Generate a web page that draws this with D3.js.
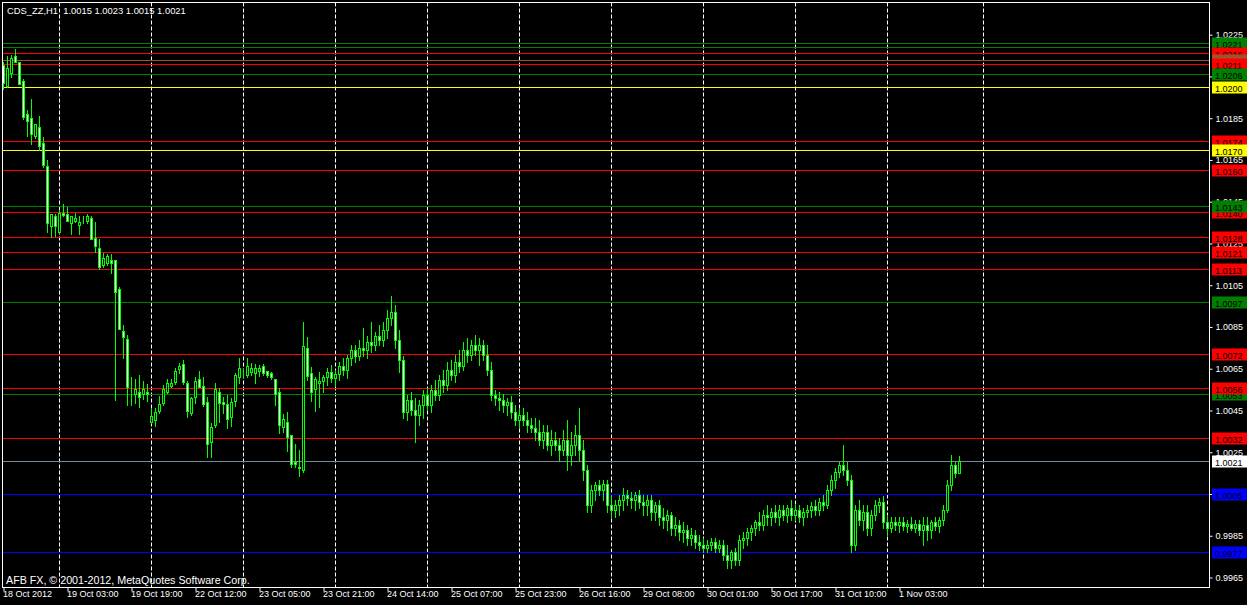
<!DOCTYPE html>
<html><head><meta charset="utf-8">
<script src="https://cdn.jsdelivr.net/npm/d3@7"></script>
<style>html,body{margin:0;padding:0;background:#000;overflow:hidden}svg{display:block}</style>
</head><body><svg id="c" width="1247" height="605"></svg>
<script>
// ---------- DATA ----------
const symbolTitle = "CDS_ZZ,H1  1.0015 1.0023 1.0015 1.0021";
const copyright = "AFB FX, \u00A9 2001-2012, MetaQuotes Software Corp.";
const opens  = [1.02105,1.02006,1.02068,1.02148,1.02118,1.02027,1.01869,1.01850,1.01765,1.01806,
1.01730,1.01621,1.01335,1.01383,1.01305,1.01397,1.01391,1.01349,1.01359,1.01338,
1.01353,1.01358,1.01372,1.01276,1.01228,1.01148,1.01158,1.01171,1.01171,1.01030,
1.00829,1.00791,1.00548,1.00529,1.00540,1.00529,1.00540,1.00396,1.00404,1.00449,
1.00487,1.00540,1.00569,1.00588,1.00650,1.00671,1.00580,1.00439,1.00516,1.00599,
1.00569,1.00489,1.00298,1.00380,1.00540,1.00489,1.00480,1.00420,1.00495,1.00609,
1.00628,1.00620,1.00636,1.00628,1.00641,1.00663,1.00639,1.00628,1.00599,1.00540,
1.00369,1.00396,1.00331,1.00205,1.00181,1.00165,1.00748,1.00628,1.00551,1.00580,
1.00591,1.00610,1.00634,1.00606,1.00625,1.00663,1.00644,1.00702,1.00740,1.00711,
1.00750,1.00740,1.00778,1.00764,1.00807,1.00788,1.00836,1.00893,1.00921,1.00788,
1.00692,1.00442,1.00500,1.00452,1.00428,1.00476,1.00524,1.00476,1.00548,1.00524,
1.00596,1.00572,1.00644,1.00620,1.00682,1.00663,1.00740,1.00716,1.00764,1.00740,
1.00764,1.00716,1.00644,1.00524,1.00510,1.00500,1.00476,1.00490,1.00442,1.00404,
1.00428,1.00404,1.00380,1.00366,1.00346,1.00308,1.00346,1.00284,1.00308,1.00284,
1.00260,1.00308,1.00236,1.00284,1.00332,1.00260,1.00164,0.99997,1.00068,1.00092,
1.00068,1.00097,0.99997,0.99973,0.99997,1.00020,1.00044,1.00030,1.00020,1.00044,
1.00010,0.99997,1.00020,0.99963,0.99997,0.99939,0.99925,0.99949,0.99887,0.99901,
0.99867,0.99877,0.99839,0.99853,0.99819,0.99805,0.99791,0.99805,0.99819,0.99791,
0.99805,0.99757,0.99733,0.99771,0.99733,0.99829,0.99839,0.99867,0.99887,0.99915,
0.99901,0.99949,0.99939,0.99963,0.99939,0.99973,0.99949,0.99983,0.99949,0.99973,
0.99939,0.99963,0.99973,0.99992,0.99973,1.00010,0.99997,1.00068,1.00116,1.00154,
1.00188,1.00164,1.00116,0.99805,0.99973,0.99925,0.99963,0.99887,0.99949,0.99997,
1.00010,0.99915,0.99887,0.99915,0.99901,0.99915,0.99896,0.99906,0.99887,0.99906,
0.99877,0.99901,0.99877,0.99915,0.99896,0.99925,0.99973,1.00092,1.00188,1.00150];
const highs  = [1.02121,1.02148,1.02153,1.02182,1.02121,1.02038,1.01889,1.01941,1.01822,1.01861,
1.01760,1.01650,1.01391,1.01391,1.01407,1.01439,1.01426,1.01382,1.01397,1.01382,
1.01382,1.01391,1.01382,1.01353,1.01271,1.01203,1.01200,1.01198,1.01171,1.01041,
1.00859,1.00812,1.00612,1.00599,1.00620,1.00590,1.00577,1.00460,1.00460,1.00519,
1.00572,1.00599,1.00599,1.00652,1.00676,1.00692,1.00593,1.00516,1.00612,1.00639,
1.00612,1.00516,1.00389,1.00580,1.00559,1.00516,1.00524,1.00508,1.00631,1.00703,
1.00652,1.00700,1.00676,1.00673,1.00668,1.00671,1.00639,1.00636,1.00599,1.00556,
1.00433,1.00443,1.00333,1.00289,1.00261,1.00874,1.00803,1.00660,1.00612,1.00636,
1.00620,1.00654,1.00668,1.00644,1.00682,1.00702,1.00716,1.00764,1.00764,1.00788,
1.00846,1.00807,1.00874,1.00826,1.00860,1.00874,1.00931,1.00998,1.00955,1.00836,
1.00711,1.00524,1.00538,1.00510,1.00500,1.00548,1.00558,1.00572,1.00596,1.00620,
1.00644,1.00682,1.00692,1.00716,1.00740,1.00778,1.00798,1.00788,1.00812,1.00798,
1.00788,1.00764,1.00682,1.00548,1.00538,1.00529,1.00510,1.00519,1.00476,1.00462,
1.00462,1.00442,1.00414,1.00414,1.00404,1.00380,1.00380,1.00356,1.00346,1.00318,
1.00356,1.00404,1.00346,1.00380,1.00462,1.00308,1.00188,1.00092,1.00106,1.00116,
1.00116,1.00116,1.00044,1.00020,1.00044,1.00078,1.00068,1.00059,1.00059,1.00068,
1.00044,1.00044,1.00044,1.00010,1.00020,0.99983,0.99973,0.99963,0.99939,0.99925,
0.99915,0.99901,0.99887,0.99877,0.99853,0.99839,0.99829,0.99839,0.99839,0.99829,
0.99829,0.99805,0.99781,0.99791,0.99853,0.99867,0.99887,0.99901,0.99925,0.99963,
0.99973,0.99997,0.99983,0.99997,0.99997,0.99997,0.99997,1.00020,0.99997,0.99997,
0.99983,0.99997,1.00010,1.00020,1.00030,1.00044,1.00092,1.00140,1.00174,1.00202,
1.00284,1.00202,1.00140,0.99997,1.00020,0.99997,0.99997,0.99973,1.00020,1.00030,
1.00039,0.99949,0.99939,0.99939,0.99939,0.99939,0.99925,0.99939,0.99925,0.99925,
0.99939,0.99939,0.99925,0.99939,0.99939,0.99997,1.00116,1.00236,1.00202,1.00230];
const lows   = [1.01988,1.02001,1.02049,1.02119,1.02015,1.01848,1.01765,1.01728,1.01755,1.01698,
1.01618,1.01306,1.01282,1.01287,1.01299,1.01380,1.01358,1.01295,1.01353,1.01295,
1.01347,1.01347,1.01270,1.01211,1.01129,1.01136,1.01147,1.01107,1.00500,1.00839,
1.00700,1.00476,1.00476,1.00487,1.00468,1.00504,1.00497,1.00391,1.00376,1.00436,
1.00476,1.00532,1.00564,1.00577,1.00631,1.00577,1.00420,1.00428,1.00487,1.00564,
1.00471,1.00229,1.00229,1.00372,1.00396,1.00439,1.00367,1.00376,1.00471,1.00580,
1.00612,1.00612,1.00620,1.00580,1.00615,1.00620,1.00612,1.00599,1.00476,1.00341,
1.00348,1.00257,1.00181,1.00181,1.00136,1.00157,1.00596,1.00497,1.00449,1.00468,
1.00538,1.00572,1.00586,1.00567,1.00596,1.00620,1.00606,1.00668,1.00682,1.00692,
1.00711,1.00702,1.00730,1.00740,1.00764,1.00759,1.00798,1.00860,1.00750,1.00634,
1.00414,1.00404,1.00428,1.00298,1.00380,1.00414,1.00452,1.00442,1.00500,1.00500,
1.00538,1.00548,1.00596,1.00586,1.00634,1.00644,1.00682,1.00692,1.00716,1.00668,
1.00692,1.00620,1.00500,1.00476,1.00452,1.00442,1.00428,1.00414,1.00380,1.00366,
1.00380,1.00346,1.00346,1.00308,1.00284,1.00270,1.00260,1.00236,1.00260,1.00212,
1.00236,1.00164,1.00188,1.00236,1.00212,1.00116,0.99963,0.99963,1.00020,1.00044,
1.00020,0.99963,0.99939,0.99939,0.99949,0.99973,0.99997,0.99983,0.99973,0.99983,
0.99949,0.99949,0.99925,0.99925,0.99901,0.99887,0.99877,0.99853,0.99853,0.99829,
0.99819,0.99805,0.99805,0.99791,0.99781,0.99771,0.99771,0.99781,0.99771,0.99771,
0.99733,0.99695,0.99695,0.99709,0.99709,0.99791,0.99805,0.99829,0.99853,0.99877,
0.99877,0.99901,0.99901,0.99915,0.99901,0.99925,0.99915,0.99925,0.99925,0.99915,
0.99901,0.99939,0.99939,0.99949,0.99949,0.99973,0.99983,1.00044,1.00078,1.00130,
1.00140,1.00092,0.99771,0.99781,0.99901,0.99877,0.99853,0.99853,0.99925,0.99963,
0.99887,0.99853,0.99867,0.99877,0.99867,0.99877,0.99867,0.99877,0.99867,0.99853,
0.99805,0.99829,0.99839,0.99877,0.99867,0.99901,0.99963,1.00068,1.00130,1.00150];
const closes = [1.02017,1.02089,1.02137,1.02119,1.02015,1.01857,1.01838,1.01776,1.01822,1.01718,
1.01627,1.01349,1.01391,1.01335,1.01397,1.01386,1.01358,1.01382,1.01372,1.01351,
1.01355,1.01382,1.01270,1.01239,1.01139,1.01180,1.01190,1.01158,1.01019,1.00839,
1.00801,1.00564,1.00550,1.00553,1.00516,1.00553,1.00529,1.00424,1.00443,1.00481,
1.00553,1.00580,1.00580,1.00639,1.00663,1.00588,1.00449,1.00508,1.00590,1.00564,
1.00480,1.00289,1.00369,1.00553,1.00487,1.00480,1.00409,1.00489,1.00620,1.00652,
1.00630,1.00663,1.00652,1.00652,1.00652,1.00630,1.00620,1.00609,1.00529,1.00380,
1.00408,1.00324,1.00194,1.00194,1.00173,1.00759,1.00617,1.00540,1.00599,1.00591,
1.00610,1.00634,1.00606,1.00625,1.00663,1.00644,1.00702,1.00740,1.00711,1.00750,
1.00740,1.00778,1.00764,1.00807,1.00788,1.00836,1.00893,1.00921,1.00788,1.00692,
1.00442,1.00500,1.00452,1.00428,1.00476,1.00524,1.00476,1.00548,1.00524,1.00596,
1.00572,1.00644,1.00620,1.00682,1.00663,1.00740,1.00716,1.00764,1.00740,1.00764,
1.00716,1.00644,1.00524,1.00510,1.00500,1.00476,1.00490,1.00442,1.00404,1.00428,
1.00404,1.00380,1.00366,1.00346,1.00308,1.00346,1.00284,1.00308,1.00284,1.00260,
1.00308,1.00236,1.00284,1.00332,1.00260,1.00164,0.99997,1.00068,1.00092,1.00068,
1.00097,0.99997,0.99973,0.99997,1.00020,1.00044,1.00030,1.00020,1.00044,1.00010,
0.99997,1.00020,0.99963,0.99997,0.99939,0.99925,0.99949,0.99887,0.99901,0.99867,
0.99877,0.99839,0.99853,0.99819,0.99805,0.99791,0.99805,0.99819,0.99791,0.99805,
0.99757,0.99733,0.99771,0.99733,0.99829,0.99839,0.99867,0.99887,0.99915,0.99901,
0.99949,0.99939,0.99963,0.99939,0.99973,0.99949,0.99983,0.99949,0.99973,0.99939,
0.99963,0.99973,0.99992,0.99973,1.00010,0.99997,1.00068,1.00116,1.00154,1.00188,
1.00164,1.00116,0.99805,0.99973,0.99925,0.99963,0.99887,0.99949,0.99997,1.00010,
0.99915,0.99887,0.99915,0.99901,0.99915,0.99896,0.99906,0.99887,0.99906,0.99877,
0.99901,0.99877,0.99915,0.99896,0.99925,0.99973,1.00092,1.00188,1.00150,1.00210];

const priceTicks = [1.0225,1.0205,1.0185,1.0165,1.0145,1.0125,1.0105,1.0085,1.0065,1.0045,1.0025,1.0005,0.9985,0.9965];
const timeLabels = ["18 Oct 2012","19 Oct 03:00","19 Oct 19:00","22 Oct 12:00","23 Oct 05:00","23 Oct 21:00","24 Oct 14:00","25 Oct 07:00","25 Oct 23:00","26 Oct 16:00","29 Oct 08:00","30 Oct 01:00","30 Oct 17:00","31 Oct 10:00","1 Nov 03:00"];
const timeLabelBars = [0,16,32,48,64,80,96,112,128,144,160,176,192,208,224];
const gridBars = [14,37,60,83,106,129,152,175,198,221,245];

// horizontal levels, in drawing order
const levelPrices = [1.0219,1.0221,1.0216,1.0213,1.0211,1.0206,1.0200,1.0174,1.0170,1.0160,1.0140,1.0143,1.0128,1.0121,1.0113,1.0097,1.0072,1.0053,1.0056,1.0032,1.0005,0.9977,1.0021];
const levelKinds  = ["green","green","red","brown","red","green","yellow","red","yellow","red","red","green","red","red","red","green","red","green","red","red","blue","blue","bid"];

// ---------- STYLE ----------
const W = 1247, H = 605;
const plot = {left: 2.5, right: 1209.5, top: 2.5, bottom: 587.5};
const lineColor = {green:"#008000", red:"#FF0000", brown:"#A0522D", yellow:"#FFFF00", blue:"#0000FF", bid:"#778899"};
const boxColor  = {green:"#008000", red:"#FF0000", brown:"#A0522D", yellow:"#FFFF00", blue:"#0000FF", bid:"#FFFFFF"};
const FONT = "'Liberation Sans', Arial, sans-serif";

const svg = d3.select("#c");
svg.append("rect").attr("width", W).attr("height", H).attr("fill", "#000");

const x = d3.scaleLinear().domain([0, 1]).range([3.5, 7.5]);
const y = d3.scaleLinear().domain([0.9965, 1.0225]).range([577.5, 34.7]);

// vertical dashed grid
svg.append("g").selectAll("line").data(gridBars).join("line")
  .attr("x1", d => Math.round(x(d)) - 0.5).attr("x2", d => Math.round(x(d)) - 0.5)
  .attr("y1", plot.top).attr("y2", plot.bottom)
  .attr("stroke", "#fff").attr("stroke-width", 1).attr("stroke-dasharray", "4,2");

// price axis (tick labels underneath level boxes)
const yAxis = d3.axisRight(y).tickValues(priceTicks).tickSize(3).tickPadding(3).tickFormat(d3.format(".4f"));
const yg = svg.append("g").attr("transform", `translate(${plot.right},0)`).call(yAxis);
yg.select(".domain").remove();
yg.selectAll("line").attr("stroke", "#fff");
yg.selectAll("text").attr("fill", "#fff").attr("font-family", FONT).attr("font-size", "9px");

// levels
const lv = levelPrices.map((p, i) => ({p, k: levelKinds[i]}));
svg.append("g").selectAll("line").data(lv).join("line")
  .attr("x1", plot.left + 0.5).attr("x2", plot.right)
  .attr("y1", d => Math.round(y(d.p)) + 0.5).attr("y2", d => Math.round(y(d.p)) + 0.5)
  .attr("stroke", d => lineColor[d.k]).attr("stroke-width", 1);

// candles
const bars = opens.map((o, i) => ({i, o, h: highs[i], l: lows[i], c: closes[i]}));
const cg = svg.append("g");
cg.selectAll("line").data(bars).join("line")
  .attr("x1", d => x(d.i)).attr("x2", d => x(d.i))
  .attr("y1", d => Math.round(y(d.h))).attr("y2", d => Math.round(y(d.l)) + 1)
  .attr("stroke", "#00FF00").attr("stroke-width", 1);
cg.selectAll("rect").data(bars).join("rect")
  .attr("x", d => x(d.i) - 1)
  .attr("width", 2)
  .attr("y", d => Math.round(y(Math.max(d.o, d.c))) + 0.5)
  .attr("height", d => Math.max(0, Math.round(y(Math.min(d.o, d.c))) - Math.round(y(Math.max(d.o, d.c)))))
  .attr("fill", d => d.c < d.o ? "#FFFFFF" : "#000000")
  .attr("stroke", "#00FF00").attr("stroke-width", 1);

// frame
svg.append("rect").attr("x", plot.left).attr("y", plot.top)
  .attr("width", plot.right - plot.left).attr("height", plot.bottom - plot.top)
  .attr("fill", "none").attr("stroke", "#fff").attr("stroke-width", 1);

// level price boxes
const lb = svg.append("g").selectAll("g").data(lv).join("g")
  .attr("transform", d => `translate(1212,${Math.round(y(d.p))})`);
lb.append("rect").attr("x", 0).attr("y", -5.5).attr("width", 35).attr("height", 12)
  .attr("fill", d => boxColor[d.k]);
lb.append("text").attr("x", 3).attr("y", 4.5).text(d => d3.format(".4f")(d.p))
  .attr("fill", "#000").attr("font-family", FONT).attr("font-size", "9px");

// time axis
const xAxis = d3.axisBottom(x).tickValues(timeLabelBars).tickSize(4).tickFormat((d, i) => timeLabels[i]);
const xg = svg.append("g").attr("transform", `translate(0,${plot.bottom})`).call(xAxis);
xg.select(".domain").remove();
xg.selectAll("line").attr("stroke", "#fff");
xg.selectAll("text").attr("fill", "#fff").attr("font-family", FONT).attr("font-size", "9px")
  .attr("text-anchor", "start").attr("dx", "-1").attr("dy", "0.3em");

// texts
svg.append("text").attr("x", 7).attr("y", 14).text(symbolTitle)
  .attr("fill", "#fff").attr("font-family", FONT).attr("font-size", "9.4px").style("white-space", "pre");
svg.append("text").attr("x", 6).attr("y", 584).text(copyright)
  .attr("fill", "#fff").attr("font-family", FONT).attr("font-size", "10.7px");
</script></body></html>
